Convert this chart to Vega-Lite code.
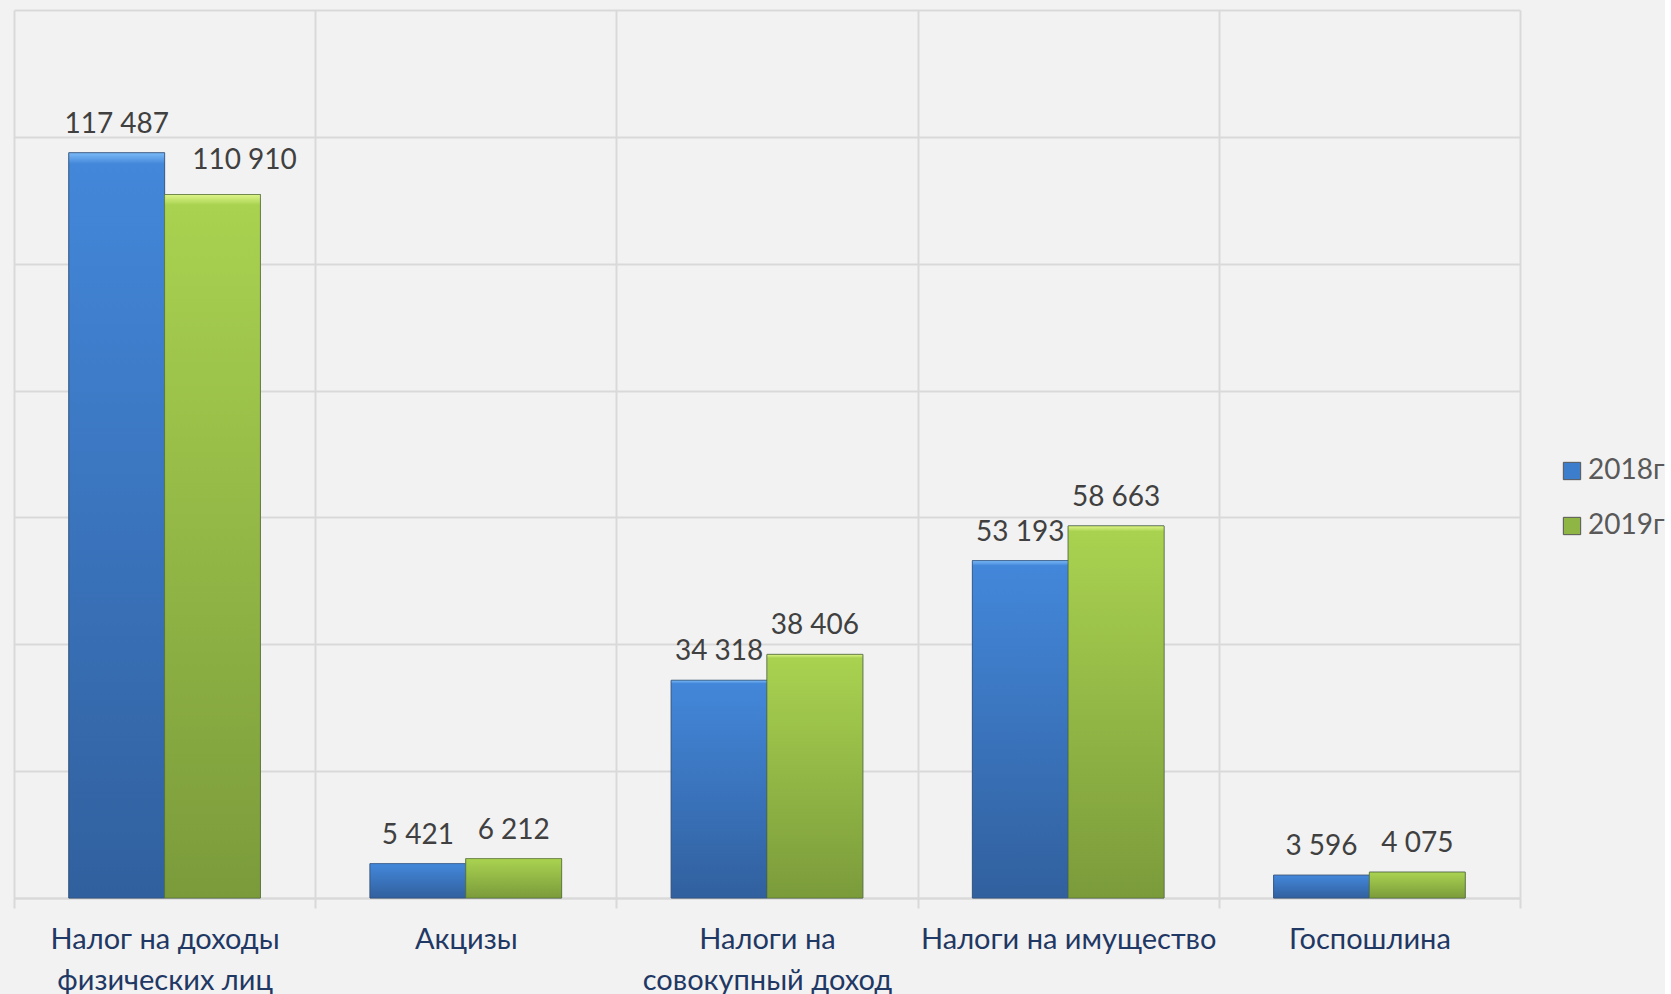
{
  "$schema": "https://vega.github.io/schema/vega-lite/v6.json",
  "width": 1506,
  "height": 888,
  "padding": {"left": 13, "top": 10, "right": 0, "bottom": 0},
  "background": "#f2f2f2",
  "config": {
    "view": {"stroke": null},
    "font": "Lato",
    "locale": {"number": {"decimal": ",", "thousands": " ", "grouping": [3], "currency": ["", ""]}}
  },
  "data": {
    "values": [
      {"category": "Налог на доходы физических лиц", "year": "2018г", "value": 117487},
      {"category": "Налог на доходы физических лиц", "year": "2019г", "value": 110910},
      {"category": "Акцизы", "year": "2018г", "value": 5421},
      {"category": "Акцизы", "year": "2019г", "value": 6212},
      {"category": "Налоги на совокупный доход", "year": "2018г", "value": 34318},
      {"category": "Налоги на совокупный доход", "year": "2019г", "value": 38406},
      {"category": "Налоги на имущество", "year": "2018г", "value": 53193},
      {"category": "Налоги на имущество", "year": "2019г", "value": 58663},
      {"category": "Госпошлина", "year": "2018г", "value": 3596},
      {"category": "Госпошлина", "year": "2019г", "value": 4075}
    ]
  },
  "encoding": {
    "x": {
      "field": "category", "type": "nominal", "sort": null,
      "scale": {"paddingInner": 0, "paddingOuter": 0},
      "axis": {
        "title": null, "labelAngle": 0, "tickBand": "extent", "grid": true,
        "gridColor": "#d9d9d9", "gridWidth": 2, "tickColor": "#d9d9d9", "tickWidth": 2, "tickSize": 10,
        "domainColor": "#d9d9d9", "domainWidth": 2,
        "labelFontSize": 29, "labelColor": "#1f3864", "labelPadding": 17, "labelLineHeight": 41,
        "labelBaseline": "top", "labelLimit": 0,
        "labelExpr": "datum.label == 'Налог на доходы физических лиц' ? ['Налог на доходы', 'физических лиц'] : datum.label == 'Налоги на совокупный доход' ? ['Налоги на', 'совокупный доход'] : datum.label"
      }
    },
    "xOffset": {"field": "year", "type": "nominal", "scale": {"paddingInner": 0, "paddingOuter": 0.572}},
    "y": {
      "field": "value", "type": "quantitative",
      "scale": {"domain": [0, 140000]},
      "axis": {
        "title": null, "labels": false, "ticks": false, "domain": false,
        "values": [0, 20000, 40000, 60000, 80000, 100000, 120000, 140000],
        "gridColor": "#d9d9d9", "gridWidth": 2
      }
    }
  },
  "layer": [
    {
      "mark": {"type": "bar", "stroke": "#5f6f80", "strokeWidth": 1},
      "encoding": {
        "color": {
          "field": "year", "type": "nominal",
          "scale": {"range": ["#3c7dcc", "#8fb545"]},
          "legend": {
            "title": null, "orient": "none", "legendX": 1544, "legendY": 447,
            "symbolType": "square", "symbolSize": 300, "symbolStrokeColor": "#555555", "symbolStrokeWidth": 1,
            "labelFontSize": 28, "labelColor": "#595959", "rowPadding": 27, "labelOffset": 2
          }
        }
      }
    },
    {
      "transform": [{"filter": "datum.year == '2018г'"}],
      "mark": {
        "type": "bar", "stroke": "#2f4f7a", "strokeWidth": 1, "strokeOpacity": 0.6,
        "fill": {"gradient": "linear", "x1": 0, "y1": 0, "x2": 0, "y2": 1,
          "stops": [{"offset": 0, "color": "#7bbaf7"}, {"offset": 0.015, "color": "#4387da"}, {"offset": 1, "color": "#31609e"}]}
      }
    },
    {
      "transform": [{"filter": "datum.year == '2019г'"}],
      "mark": {
        "type": "bar", "stroke": "#55702a", "strokeWidth": 1, "strokeOpacity": 0.6,
        "fill": {"gradient": "linear", "x1": 0, "y1": 0, "x2": 0, "y2": 1,
          "stops": [{"offset": 0, "color": "#def58a"}, {"offset": 0.015, "color": "#a9d250"}, {"offset": 1, "color": "#7b9b3b"}]}
      }
    },
    {
      "transform": [{"filter": "datum.value != 110910"}],
      "mark": {"type": "text", "baseline": "bottom", "dy": -14, "fontSize": 28, "color": "#404040"},
      "encoding": {"text": {"field": "value", "type": "quantitative", "format": ",d"}}
    },
    {
      "transform": [{"filter": "datum.value == 110910"}],
      "mark": {"type": "text", "baseline": "bottom", "dx": 32, "dy": -20, "fontSize": 28, "color": "#404040"},
      "encoding": {"text": {"field": "value", "type": "quantitative", "format": ",d"}}
    }
  ]
}
